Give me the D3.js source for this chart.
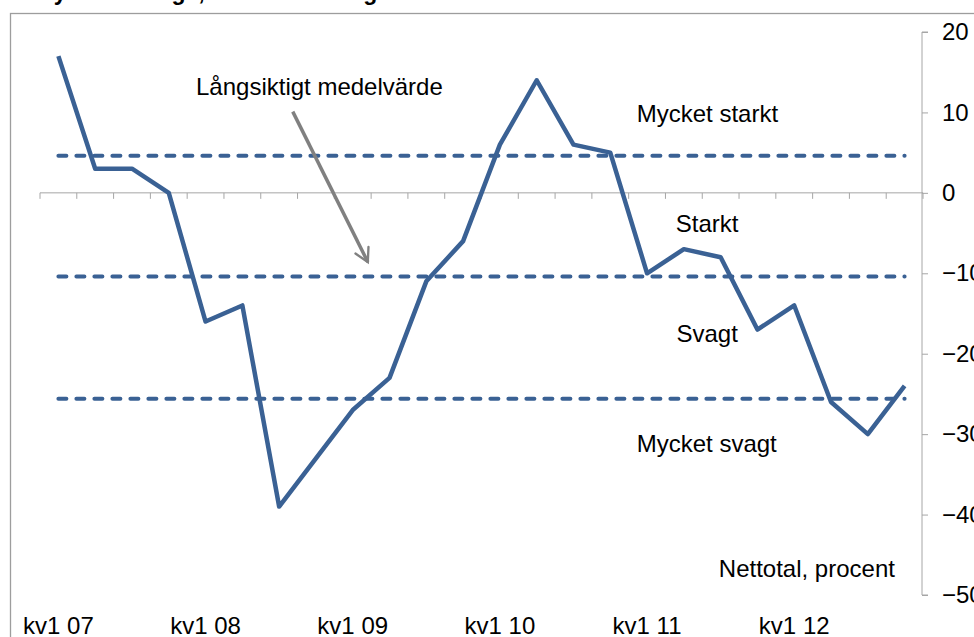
<!DOCTYPE html>
<meta charset="utf-8">
<style>
    body { margin: 0; background: #fff; }
    text { font-family: "Liberation Sans", Arial, sans-serif; }
</style>
<div id="chart"></div>
<script src="https://d3js.org/d3.v7.min.js"></script>
<script>

    var width = 974;
    var height = 637;

    // kvartal 2007 - 2012
    const quarters = ["kv1 07", "kv2 07", "kv3 07", "kv4 07",
                      "kv1 08", "kv2 08", "kv3 08", "kv4 08",
                      "kv1 09", "kv2 09", "kv3 09", "kv4 09",
                      "kv1 10", "kv2 10", "kv3 10", "kv4 10",
                      "kv1 11", "kv2 11", "kv3 11", "kv4 11",
                      "kv1 12", "kv2 12", "kv3 12", "kv4 12"];
    const nettotal = [17, 3, 3, 0, -16, -14, -39, -33,
                      -27, -23, -11, -6, 6, 14, 6, 5,
                      -10, -7, -8, -17, -14, -26, -30, -24];
    // medelvärde och gränser (+/- en standardavvikelse)
    const levels = [4.6, -10.4, -25.6];
    const yTicks = [20, 10, 0, -10, -20, -30, -40, -50];
    const tickLabels = ["kv1 07", "kv1 08", "kv1 09", "kv1 10", "kv1 11", "kv1 12"];
    const zoneLabels = [
        {text: "Mycket starkt", i: 15.72, v: 8.8},
        {text: "Starkt", i: 16.78, v: -4.85},
        {text: "Svagt", i: 16.8, v: -18.5},
        {text: "Mycket svagt", i: 15.72, v: -32.2},
        {text: "Nettotal, procent", i: 17.95, v: -47.8}
    ];
    const arrowNote = {text: "Långsiktigt medelvärde", i: 3.74, v: 12.2,
                       from: [6.37, 10.1], to: [8.41, -8.6]};

    const blue = "#3a6194";
    const grey = "#a6a6a6";
    const fs = "24px";

    const svg = d3.select("#chart")
                  .append("svg")
                  .attr("width", width)
                  .attr("height", height);

    const x = d3.scaleBand()
                .domain(quarters)
                .range([40, 923])
                .padding(0);
    const y = d3.scaleLinear()
                .domain([-50, 20])
                .range([595, 32]);
    // position by index (point centres) for annotations
    const xi = d3.scaleLinear()
                 .domain([0, quarters.length - 1])
                 .range([x(quarters[0]) + x.bandwidth() / 2, x(quarters[quarters.length - 1]) + x.bandwidth() / 2]);

    // title (cut off at the top, only descenders show)
    svg.append("text")
       .attr("x", 4)
       .attr("y", 0)
       .style("font-size", "23px")
       .style("font-weight", "bold")
       .text("Analys: orderläge, bostadsföretagen");

    // frame
    svg.append("rect")
       .attr("x", 10.5)
       .attr("y", 13.5)
       .attr("width", width + 20)
       .attr("height", height + 20)
       .attr("fill", "none")
       .attr("stroke", "#9d9d9d")
       .attr("stroke-width", 1.3);

    // x axis at zero, ticks on category boundaries
    const xAxis = svg.append("g");
    xAxis.append("line")
         .attr("x1", x.range()[0]).attr("x2", x.range()[1])
         .attr("y1", y(0)).attr("y2", y(0))
         .attr("stroke", grey);
    xAxis.selectAll("line.tick")
         .data(quarters.concat(["end"]))
         .join("line")
         .attr("class", "tick")
         .attr("x1", d => d === "end" ? x.range()[1] : x(d))
         .attr("x2", d => d === "end" ? x.range()[1] : x(d))
         .attr("y1", y(0))
         .attr("y2", y(0) + 6)
         .attr("stroke", grey);

    svg.selectAll("text.xlab")
       .data(tickLabels)
       .join("text")
       .attr("class", "xlab")
       .attr("x", d => x(d) + x.bandwidth() / 2)
       .attr("y", 634)
       .attr("text-anchor", "middle")
       .style("font-size", fs)
       .text(d => d);

    // right y axis
    const yAxis = svg.append("g")
                     .attr("transform", `translate(${x.range()[1] - 1},0)`)
                     .call(d3.axisRight(y).tickValues(yTicks).tickSize(6).tickPadding(14).tickFormat(d3.format("d")));
    yAxis.select(".domain").attr("stroke", grey).attr("d", `M6,${y(20)}H0V${y(-50)}H6`);
    yAxis.selectAll(".tick line").attr("stroke", grey);
    yAxis.selectAll(".tick text")
         .attr("fill", "#000")
         .style("font-size", fs)
         .style("font-family", "'Liberation Sans', Arial, sans-serif");

    // dashed level lines
    svg.selectAll("line.level")
       .data(levels)
       .join("line")
       .attr("class", "level")
       .attr("x1", xi(0))
       .attr("x2", xi(quarters.length - 1))
       .attr("y1", d => y(d))
       .attr("y2", d => y(d))
       .attr("stroke", blue)
       .attr("stroke-width", 4)
       .attr("stroke-linecap", "round")
       .attr("stroke-dasharray", "8,10");

    // series
    const line = d3.line()
                   .x((d, i) => x(quarters[i]) + x.bandwidth() / 2)
                   .y(d => y(d));
    svg.append("path")
       .datum(nettotal)
       .attr("d", line)
       .attr("fill", "none")
       .attr("stroke", blue)
       .attr("stroke-width", 4.5)
       .attr("stroke-linejoin", "round");

    // zone labels
    svg.selectAll("text.zone")
       .data(zoneLabels)
       .join("text")
       .attr("class", "zone")
       .attr("x", d => xi(d.i))
       .attr("y", d => y(d.v))
       .style("font-size", fs)
       .text(d => d.text);

    // arrow annotation
    svg.append("defs")
       .append("marker")
       .attr("id", "head")
       .attr("viewBox", "0 0 12 12")
       .attr("refX", 10)
       .attr("refY", 6)
       .attr("markerWidth", 5)
       .attr("markerHeight", 5)
       .attr("markerUnits", "strokeWidth")
       .attr("orient", "auto")
       .append("path")
       .attr("d", "M1,1 L10,6 L1,11")
       .attr("fill", "none")
       .attr("stroke", "#808080")
       .attr("stroke-width", 1.6)
       .attr("stroke-linecap", "round");

    svg.append("line")
       .attr("x1", xi(arrowNote.from[0]))
       .attr("y1", y(arrowNote.from[1]))
       .attr("x2", xi(arrowNote.to[0]))
       .attr("y2", y(arrowNote.to[1]))
       .attr("stroke", "#808080")
       .attr("stroke-width", 3.5)
       .attr("marker-end", "url(#head)");

    svg.append("text")
       .attr("x", xi(arrowNote.i))
       .attr("y", y(arrowNote.v))
       .style("font-size", fs)
       .text(arrowNote.text);

</script>
